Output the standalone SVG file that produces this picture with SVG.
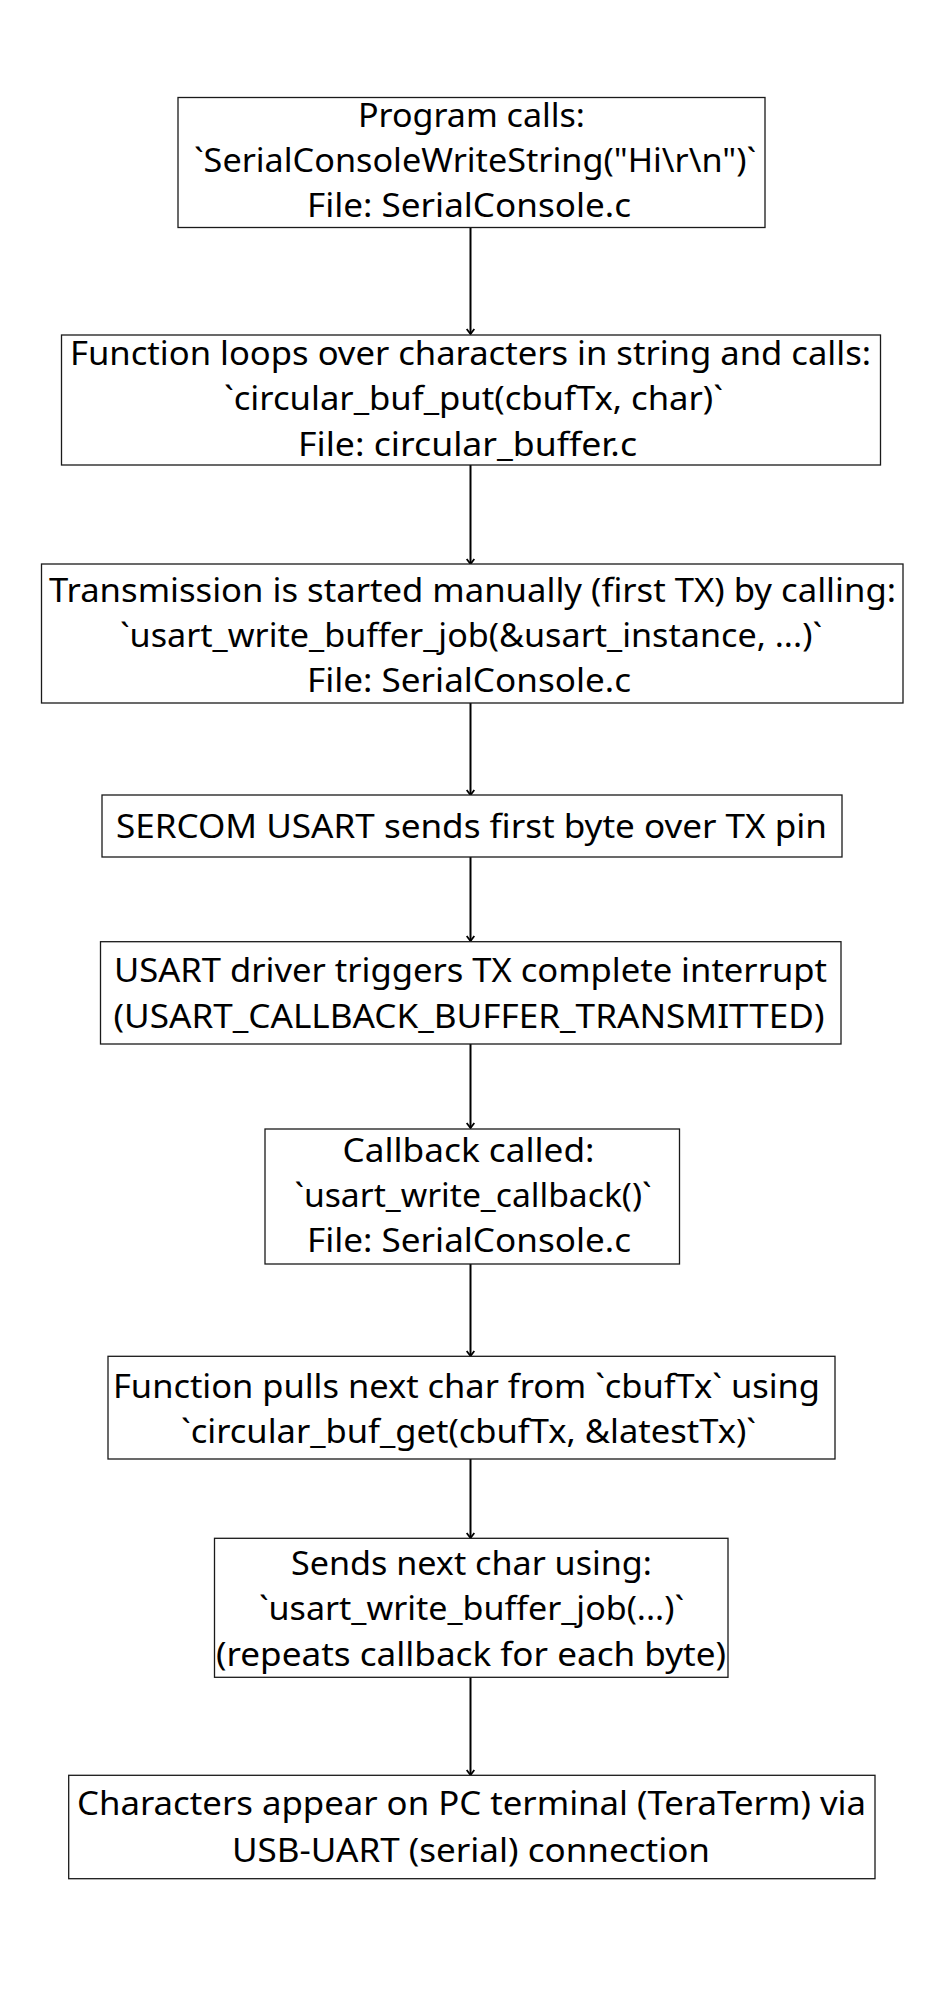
<svg xmlns="http://www.w3.org/2000/svg" width="943" height="2000" viewBox="0 0 943 2000">
<style>
.box{fill:#fff;stroke:#1a1a1a;stroke-width:1.3}
.t{font-family:"Noto Sans","Open Sans","Liberation Sans",sans-serif;font-size:32px;fill:#000;text-anchor:middle}
.c{stroke:#000;stroke-width:2;fill:none}
</style>
<defs>
<marker id="ah" markerWidth="12" markerHeight="12" refX="9" refY="6" orient="auto" markerUnits="userSpaceOnUse">
<path d="M4,2.2 L9,6 L4,9.8" fill="none" stroke="#000" stroke-width="1.8"/>
</marker>
</defs>
<rect width="943" height="2000" fill="#fff"/>
<g id="connectors">
<line class="c" x1="470.5" y1="228" x2="470.5" y2="334" marker-end="url(#ah)"/>
<line class="c" x1="470.5" y1="465" x2="470.5" y2="564" marker-end="url(#ah)"/>
<line class="c" x1="470.5" y1="703" x2="470.5" y2="795" marker-end="url(#ah)"/>
<line class="c" x1="470.5" y1="857" x2="470.5" y2="941" marker-end="url(#ah)"/>
<line class="c" x1="470.5" y1="1044" x2="470.5" y2="1128" marker-end="url(#ah)"/>
<line class="c" x1="470.5" y1="1264" x2="470.5" y2="1356" marker-end="url(#ah)"/>
<line class="c" x1="470.5" y1="1459" x2="470.5" y2="1538" marker-end="url(#ah)"/>
<line class="c" x1="470.5" y1="1677" x2="470.5" y2="1775" marker-end="url(#ah)"/>
</g>
<g id="n1">
<rect class="box" x="178" y="97.5" width="587" height="130"/>
<text class="t" x="471.5" y="126.7" textLength="227" lengthAdjust="spacingAndGlyphs">Program calls:</text>
<text class="t" x="475" y="171.7" textLength="562" lengthAdjust="spacingAndGlyphs">`SerialConsoleWriteString("Hi\r\n")`</text>
<text class="t" x="469" y="216.7" textLength="324" lengthAdjust="spacingAndGlyphs">File: SerialConsole.c</text>
</g>
<g id="n2">
<rect class="box" x="61.5" y="335" width="819" height="130"/>
<text class="t" x="470.5" y="365" textLength="801" lengthAdjust="spacingAndGlyphs">Function loops over characters in string and calls:</text>
<text class="t" x="473.5" y="410" textLength="499" lengthAdjust="spacingAndGlyphs">`circular_buf_put(cbufTx, char)`</text>
<text class="t" x="467.5" y="456" textLength="339" lengthAdjust="spacingAndGlyphs">File: circular_buffer.c</text>
</g>
<g id="n3">
<rect class="box" x="41.5" y="564" width="861.5" height="139"/>
<text class="t" x="472.5" y="601.7" textLength="847" lengthAdjust="spacingAndGlyphs">Transmission is started manually (first TX) by calling:</text>
<text class="t" x="471" y="646.7" textLength="702" lengthAdjust="spacingAndGlyphs">`usart_write_buffer_job(&amp;usart_instance, ...)`</text>
<text class="t" x="469" y="692.3" textLength="324" lengthAdjust="spacingAndGlyphs">File: SerialConsole.c</text>
</g>
<g id="n4">
<rect class="box" x="102" y="795" width="740" height="62"/>
<text class="t" x="471.5" y="838" textLength="711" lengthAdjust="spacingAndGlyphs">SERCOM USART sends first byte over TX pin</text>
</g>
<g id="n5">
<rect class="box" x="100.5" y="941.7" width="740.5" height="102.3"/>
<text class="t" x="470.5" y="981.7" textLength="713" lengthAdjust="spacingAndGlyphs">USART driver triggers TX complete interrupt</text>
<text class="t" x="469" y="1028.3" textLength="711" lengthAdjust="spacingAndGlyphs">(USART_CALLBACK_BUFFER_TRANSMITTED)</text>
</g>
<g id="n6">
<rect class="box" x="265" y="1129" width="414.5" height="135"/>
<text class="t" x="468.5" y="1162.3" textLength="252" lengthAdjust="spacingAndGlyphs">Callback called:</text>
<text class="t" x="473" y="1207.3" textLength="357" lengthAdjust="spacingAndGlyphs">`usart_write_callback()`</text>
<text class="t" x="469" y="1252.3" textLength="324" lengthAdjust="spacingAndGlyphs">File: SerialConsole.c</text>
</g>
<g id="n7">
<rect class="box" x="108" y="1356.3" width="727" height="102.7"/>
<text class="t" x="466.5" y="1398.3" textLength="707" lengthAdjust="spacingAndGlyphs">Function pulls next char from `cbufTx` using</text>
<text class="t" x="468.5" y="1443.3" textLength="575" lengthAdjust="spacingAndGlyphs">`circular_buf_get(cbufTx, &amp;latestTx)`</text>
</g>
<g id="n8">
<rect class="box" x="214.5" y="1538.3" width="513.5" height="139"/>
<text class="t" x="471.5" y="1575" textLength="361" lengthAdjust="spacingAndGlyphs">Sends next char using:</text>
<text class="t" x="471.5" y="1620" textLength="425" lengthAdjust="spacingAndGlyphs">`usart_write_buffer_job(...)`</text>
<text class="t" x="471" y="1665.7" textLength="510" lengthAdjust="spacingAndGlyphs">(repeats callback for each byte)</text>
</g>
<g id="n9">
<rect class="box" x="68.7" y="1775.3" width="806.3" height="103.4"/>
<text class="t" x="471.5" y="1815" textLength="789" lengthAdjust="spacingAndGlyphs">Characters appear on PC terminal (TeraTerm) via</text>
<text class="t" x="471" y="1861.7" textLength="478" lengthAdjust="spacingAndGlyphs">USB-UART (serial) connection</text>
</g>
</svg>
